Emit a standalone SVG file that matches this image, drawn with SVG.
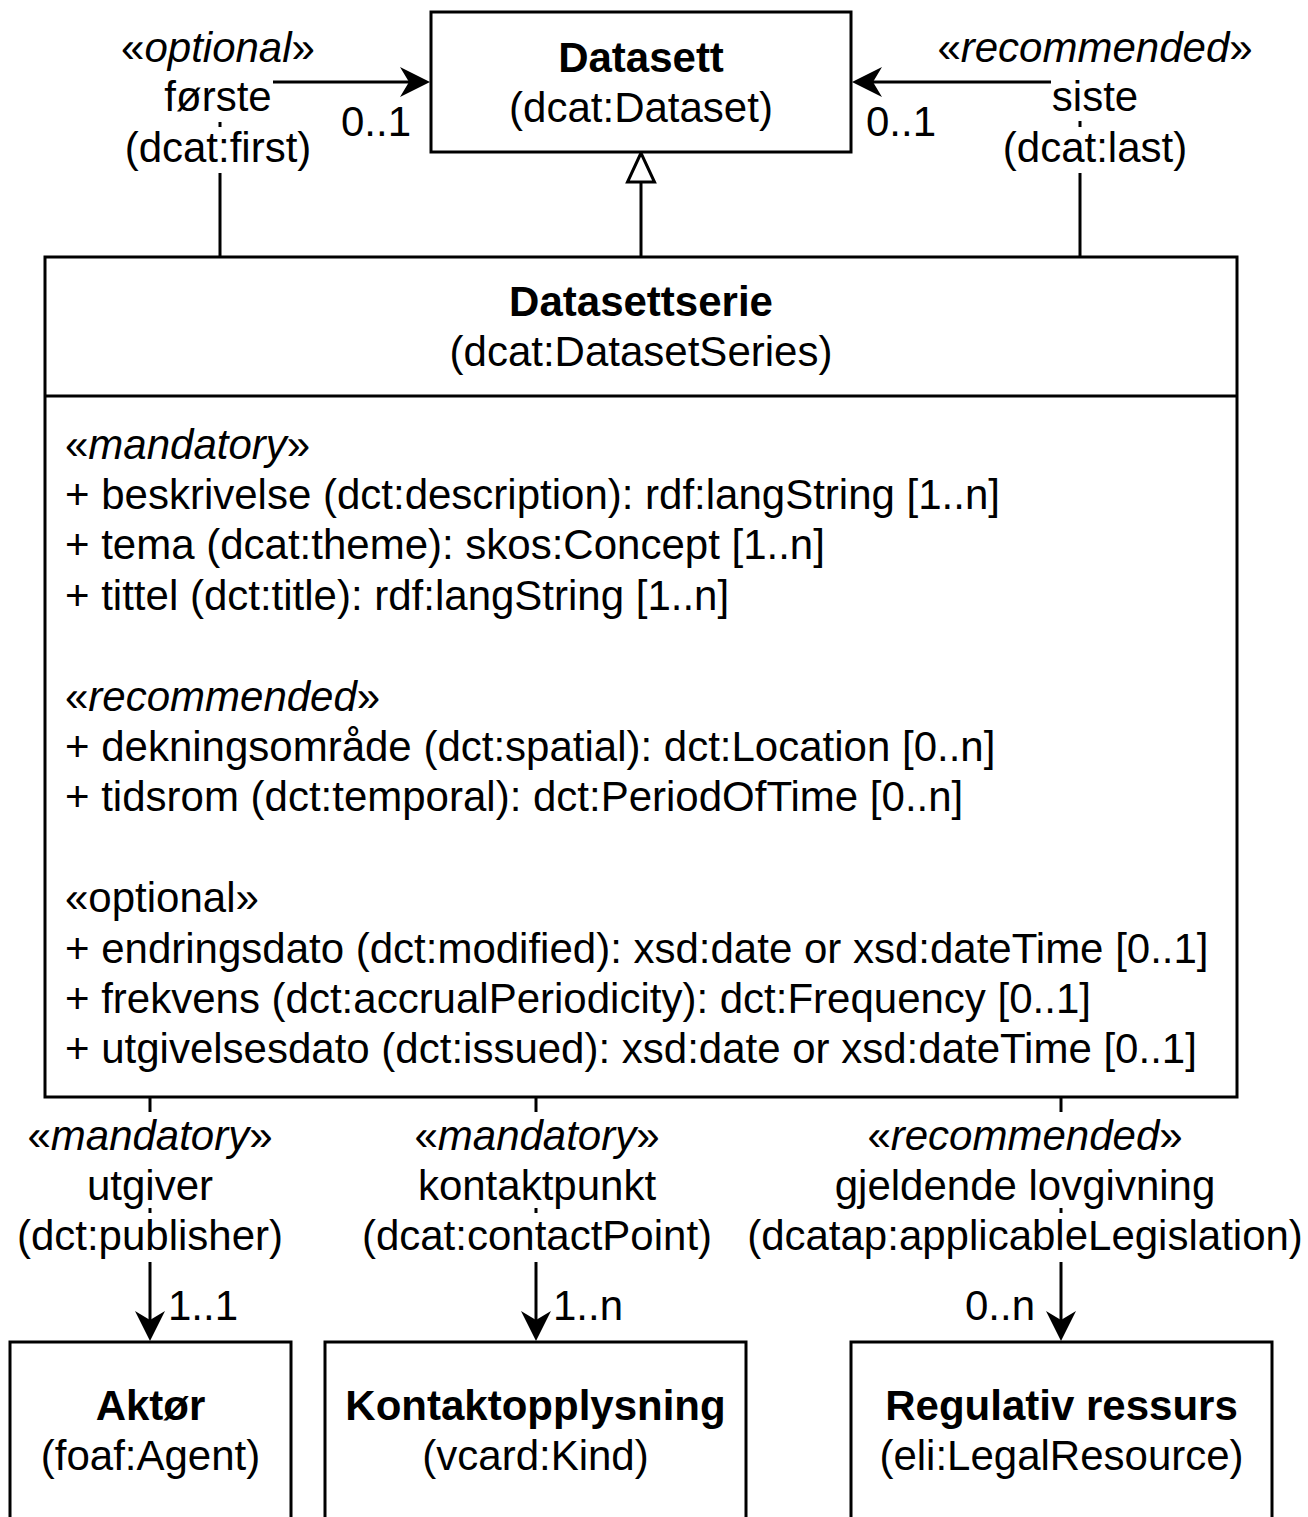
<svg xmlns="http://www.w3.org/2000/svg" width="1308" height="1517" viewBox="0 0 1308 1517">
<style>
text{font-family:"Liberation Sans",Arial,Helvetica,sans-serif;font-size:42px;fill:#000}
.c{text-anchor:middle}
.b{font-weight:bold}
.i{font-style:italic}
.box{fill:#fff;stroke:#000;stroke-width:3}
.ln{fill:none;stroke:#000;stroke-width:3}
.bg{fill:#fff;stroke:none}
</style>
<defs>
<marker id="arr" markerUnits="userSpaceOnUse" viewBox="0 0 30 30" refX="20" refY="15" markerWidth="30" markerHeight="30" orient="auto">
<path d="M0,0 L30,15 L0,30 L9,15 Z" fill="#000"/>
</marker>
</defs>
<rect width="1308" height="1517" fill="#fff"/>

<g id="connectors">
<path class="ln" d="M220,257 V82 H420" marker-end="url(#arr)"/>
<path class="ln" d="M1080,257 V82 H862" marker-end="url(#arr)"/>
<path class="ln" d="M641,257 V182"/>
<polygon points="641,153 627.5,182 654.5,182" fill="#fff" stroke="#000" stroke-width="3"/>
<path class="ln" d="M150,1097 V1331" marker-end="url(#arr)"/>
<path class="ln" d="M536,1097 V1331" marker-end="url(#arr)"/>
<path class="ln" d="M1061,1097 V1331" marker-end="url(#arr)"/>

<g id="label-first">
<rect class="bg" x="121" y="27" width="194" height="50"/>
<rect class="bg" x="164" y="77" width="109" height="45"/>
<rect class="bg" x="124" y="127" width="188" height="46"/>
<text class="c" x="218" y="62">«<tspan class="i">optional</tspan>»</text>
<text class="c" x="218" y="111">første</text>
<text class="c" x="218" y="162">(dcat:first)</text>
<text x="341" y="136">0..1</text>
</g>
<g id="label-last">
<rect class="bg" x="937" y="27" width="316" height="50"/>
<rect class="bg" x="1051" y="77" width="88" height="44"/>
<rect class="bg" x="1003" y="127" width="184" height="46"/>
<text class="c" x="1095" y="62">«<tspan class="i">recommended</tspan>»</text>
<text class="c" x="1095" y="111">siste</text>
<text class="c" x="1095" y="162">(dcat:last)</text>
<text x="866" y="136">0..1</text>
</g>
<g id="label-publisher">
<rect class="bg" x="27" y="1112" width="246" height="54"/>
<rect class="bg" x="86" y="1165" width="128" height="43"/>
<rect class="bg" x="17" y="1213" width="266" height="49"/>
<text class="c" x="150" y="1150">«<tspan class="i">mandatory</tspan>»</text>
<text class="c" x="150" y="1200">utgiver</text>
<text class="c" x="150" y="1250">(dct:publisher)</text>
<text x="168" y="1320">1..1</text>
</g>
<g id="label-contactPoint">
<rect class="bg" x="414" y="1112" width="246" height="54"/>
<rect class="bg" x="417" y="1165" width="240" height="43"/>
<rect class="bg" x="362" y="1213" width="350" height="49"/>
<text class="c" x="537" y="1150">«<tspan class="i">mandatory</tspan>»</text>
<text class="c" x="537" y="1200">kontaktpunkt</text>
<text class="c" x="537" y="1250">(dcat:contactPoint)</text>
<text x="553" y="1320">1..n</text>
</g>
<g id="label-applicableLegislation">
<rect class="bg" x="867" y="1112" width="316" height="54"/>
<rect class="bg" x="834" y="1165" width="382" height="43"/>
<rect class="bg" x="747" y="1213" width="556" height="49"/>
<text class="c" x="1025" y="1150">«<tspan class="i">recommended</tspan>»</text>
<text class="c" x="1025" y="1200">gjeldende lovgivning</text>
<text class="c" x="1025" y="1250">(dcatap:applicableLegislation)</text>
<text x="965" y="1320">0..n</text>
</g>
</g>

<g id="node-datasett">
<rect class="box" x="431" y="12" width="420" height="140"/>
<text class="c b" x="641" y="72">Datasett</text>
<text class="c" x="641" y="122">(dcat:Dataset)</text>
</g>

<g id="node-datasettserie">
<rect class="box" x="45" y="257" width="1192" height="840"/>
<line class="ln" x1="45" y1="396" x2="1237" y2="396"/>
<text class="c b" x="641" y="316">Datasettserie</text>
<text class="c" x="641" y="366">(dcat:DatasetSeries)</text>
<text x="65" y="458.5">«<tspan class="i">mandatory</tspan>»</text>
<text x="65" y="508.9">+ beskrivelse (dct:description): rdf:langString [1..n]</text>
<text x="65" y="559.3">+ tema (dcat:theme): skos:Concept [1..n]</text>
<text x="65" y="609.7">+ tittel (dct:title): rdf:langString [1..n]</text>
<text x="65" y="710.5">«<tspan class="i">recommended</tspan>»</text>
<text x="65" y="760.9">+ dekningsområde (dct:spatial): dct:Location [0..n]</text>
<text x="65" y="811.3">+ tidsrom (dct:temporal): dct:PeriodOfTime [0..n]</text>
<text x="65" y="912.1">«optional»</text>
<text x="65" y="962.5">+ endringsdato (dct:modified): xsd:date or xsd:dateTime [0..1]</text>
<text x="65" y="1012.9">+ frekvens (dct:accrualPeriodicity): dct:Frequency [0..1]</text>
<text x="65" y="1063.3">+ utgivelsesdato (dct:issued): xsd:date or xsd:dateTime [0..1]</text>
</g>

<g id="node-aktor">
<rect class="box" x="10" y="1342" width="281" height="260"/>
<text class="c b" x="150.5" y="1420">Aktør</text>
<text class="c" x="150.5" y="1470">(foaf:Agent)</text>
</g>
<g id="node-kontaktopplysning">
<rect class="box" x="325" y="1342" width="421" height="260"/>
<text class="c b" x="535.5" y="1420">Kontaktopplysning</text>
<text class="c" x="535.5" y="1470">(vcard:Kind)</text>
</g>
<g id="node-regulativ">
<rect class="box" x="851" y="1342" width="421" height="260"/>
<text class="c b" x="1061.5" y="1420">Regulativ ressurs</text>
<text class="c" x="1061.5" y="1470">(eli:LegalResource)</text>
</g>
</svg>
